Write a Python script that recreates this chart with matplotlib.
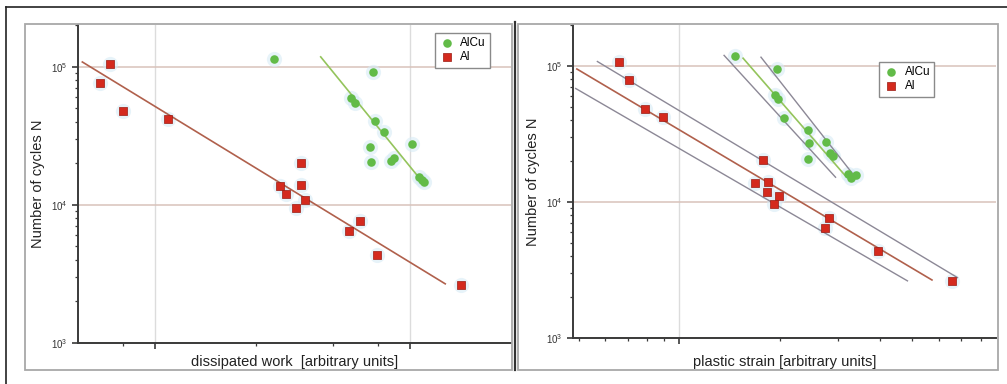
import numpy as np
import matplotlib
matplotlib.use("Agg")
import matplotlib.pyplot as plt
from matplotlib.ticker import FixedLocator, LogLocator, NullFormatter
from matplotlib.lines import Line2D

plt.rcParams['font.family'] = ['Liberation Sans', 'DejaVu Sans']

# ---- left panel: dissipated work ----
w_al_x = [0.61, 0.67, 0.75, 1.13, 3.10, 3.26, 3.74, 3.74, 3.59, 3.87, 5.80, 6.37, 7.47, 15.9]
w_al_n = [76600, 105000, 47800, 41800, 13700, 11900, 20000, 13900, 9500, 10900, 6500, 7630, 4340, 2630]
w_alcu_x = [2.94, 7.18, 5.91, 6.12, 7.34, 7.93, 6.99, 7.03, 8.48, 8.68, 10.2, 10.9, 11.2, 11.4]
w_alcu_n = [113600, 91500, 59300, 54500, 40600, 33400, 26300, 20300, 20900, 21900, 27500, 16000, 15200, 14700]
w_al_fit_x = [0.52, 13.8]
w_al_fit_n = [108000, 2680]
w_alcu_fit_x = [4.48, 11.2]
w_alcu_fit_n = [117600, 14750]

# ---- right panel: plastic strain ----
s_al_x = [0.659, 0.706, 0.787, 0.896, 1.781, 1.689, 1.840, 1.832, 1.989, 1.918, 2.818, 2.741, 3.953, 6.59]
s_al_n = [107800, 78400, 48600, 42100, 20300, 13800, 14000, 11900, 11000, 9600, 7660, 6410, 4360, 2630]
s_alcu_x = [1.473, 1.957, 1.934, 1.975, 2.057, 2.43, 2.45, 2.43, 2.76, 2.82, 2.89, 3.20, 3.26, 3.39]
s_alcu_n = [117400, 94600, 61600, 57000, 41600, 33900, 27000, 20600, 27800, 22900, 21700, 16000, 14900, 15800]
s_al_fit_x = [0.493, 5.72]
s_al_fit_n = [95000, 2670]
s_al_upper_x = [0.568, 6.82]
s_al_upper_n = [107800, 2780]
s_al_lower_x = [0.489, 4.83]
s_al_lower_n = [68300, 2630]
s_alcu_fit_x = [1.553, 3.13]
s_alcu_fit_n = [114000, 15800]
s_alcu_lower_x = [1.362, 2.94]
s_alcu_lower_n = [119600, 15200]
s_alcu_upper_x = [1.757, 3.31]
s_alcu_upper_n = [116000, 16100]

RED = '#d42a1e'
RED_EDGE = '#9a1a12'
GREEN = '#62bb48'
RED_LINE = '#b0604c'
GREEN_LINE = '#94c45c'
BAND = '#8c8896'
GRID_H = '#d9c2ba'
GRID_V = '#dcdcdc'
AXC = '#3a3a3a'

W, H = 1007, 384
fig = plt.figure(figsize=(W / 100, H / 100), dpi=100)


def px_rect(x0, y0, x1, y1):
    # pixel box (top-left origin) -> figure fraction rect
    return [x0 / W, 1 - y1 / H, (x1 - x0) / W, (y1 - y0) / H]


# outer frame and panel frames
fig.add_artist(Line2D([6 / W, 6 / W], [0, 1 - 7 / H], color='#222222', lw=1.2))
fig.add_artist(Line2D([6 / W, 1], [1 - 7 / H, 1 - 7 / H], color='#222222', lw=1.2))
for (a, b, c, d) in [(25, 24, 512, 370), (518, 24, 998, 370)]:
    fig.add_artist(plt.Rectangle((a / W, 1 - d / H), (c - a) / W, (d - b) / H,
                                 fill=False, ec='#a8a8a8', lw=1.3))
fig.add_artist(Line2D([514.5 / W, 514.5 / W], [1 - 370 / H, 1 - 22 / H], color='#333333', lw=1.6))


def style_axes(ax, xlim, major_x, minor_x):
    ax.set_xscale('log')
    ax.set_yscale('log')
    ax.set_xlim(*xlim)
    ax.set_ylim(1000, 2.0e5)
    ax.spines['top'].set_visible(False)
    ax.spines['right'].set_visible(False)
    for s in ('left', 'bottom'):
        ax.spines[s].set_color(AXC)
        ax.spines[s].set_linewidth(1.4)
    ax.xaxis.set_major_locator(FixedLocator(major_x))
    ax.xaxis.set_minor_locator(FixedLocator(minor_x))
    ax.xaxis.set_major_formatter(NullFormatter())
    ax.xaxis.set_minor_formatter(NullFormatter())
    ax.yaxis.set_major_locator(FixedLocator([1e3, 1e4, 1e5]))
    ax.yaxis.set_minor_locator(LogLocator(base=10, subs=np.arange(2, 10)))
    ax.yaxis.set_minor_formatter(NullFormatter())
    ax.tick_params(which='major', length=4, width=1.2, color=AXC, labelsize=7, labelcolor='#333333')
    ax.tick_params(which='minor', length=2.5, width=0.9, color=AXC)
    ax.grid(True, which='major', axis='y', color=GRID_H, lw=1.1)
    ax.grid(True, which='major', axis='x', color=GRID_V, lw=1.0)
    ax.set_axisbelow(True)
    ax.set_ylabel('Number of cycles N', fontsize=10.5, color='#222222', labelpad=4)
    ax.patch.set_alpha(0)


def points(ax, alcu_x, alcu_n, al_x, al_n):
    ax.scatter(alcu_x, alcu_n, s=120, color='#d8ecf6', alpha=0.6, lw=0, zorder=2)
    ax.scatter(al_x, al_n, s=120, color='#d8ecf6', alpha=0.6, lw=0, zorder=2)
    ax.scatter(alcu_x, alcu_n, s=38, marker='o', color=GREEN, lw=0, zorder=4, label='AlCu')
    ax.scatter(al_x, al_n, s=34, marker='s', color=RED, edgecolors=RED_EDGE, lw=0.5, zorder=4, label='Al')


def legend(ax, anchor):
    leg = ax.legend(loc='upper right', bbox_to_anchor=anchor, fontsize=8.5, frameon=True,
                    fancybox=False, edgecolor='#8a8a8a', framealpha=1, borderpad=0.35,
                    handletextpad=0.4, labelspacing=0.2, handlelength=1.4, borderaxespad=0)
    leg.get_frame().set_linewidth(1.0)


# left panel
ax1 = fig.add_axes(px_rect(78, 25, 511, 343))
style_axes(ax1, (0.5, 25), [1, 10], [0.75, 2.5, 5, 7.5])
ax1.plot(w_al_fit_x, w_al_fit_n, color=RED_LINE, lw=1.2, zorder=3)
ax1.plot(w_alcu_fit_x, w_alcu_fit_n, color=GREEN_LINE, lw=1.2, zorder=3)
points(ax1, w_alcu_x, w_alcu_n, w_al_x, w_al_n)
ax1.set_xlabel('dissipated work  [arbitrary units]', fontsize=10.5, color='#222222', labelpad=1)
legend(ax1, (0.951, 0.975))

# right panel
ax2 = fig.add_axes(px_rect(573, 25, 996, 338))
style_axes(ax2, (0.48, 8.9), [1], [0.5, 0.6, 0.7, 0.8, 0.9, 2, 3, 4, 5, 6, 7, 8])
ax2.plot(s_al_fit_x, s_al_fit_n, color=RED_LINE, lw=1.2, zorder=3)
ax2.plot(s_al_upper_x, s_al_upper_n, color=BAND, lw=1.0, zorder=3)
ax2.plot(s_al_lower_x, s_al_lower_n, color=BAND, lw=1.0, zorder=3)
ax2.plot(s_alcu_fit_x, s_alcu_fit_n, color=GREEN_LINE, lw=1.2, zorder=3)
ax2.plot(s_alcu_lower_x, s_alcu_lower_n, color=BAND, lw=1.0, zorder=3)
ax2.plot(s_alcu_upper_x, s_alcu_upper_n, color=BAND, lw=1.0, zorder=3)
points(ax2, s_alcu_x, s_alcu_n, s_al_x, s_al_n)
ax2.set_xlabel('plastic strain [arbitrary units]', fontsize=10.5, color='#222222', labelpad=5)
legend(ax2, (0.854, 0.882))

fig.savefig('out.png', dpi=100)
